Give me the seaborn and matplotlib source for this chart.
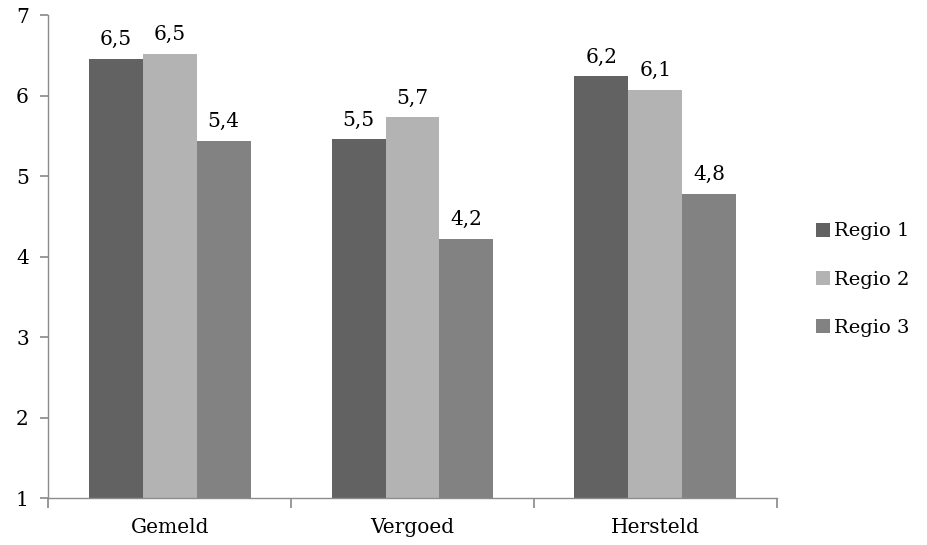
import matplotlib
matplotlib.use("Agg")
import matplotlib.pyplot as plt
import seaborn as sns
import pandas as pd

categories = ["Gemeld", "Vergoed", "Hersteld"]
series = ["Regio 1", "Regio 2", "Regio 3"]
regio1 = [6.46, 5.46, 6.24]
regio2 = [6.52, 5.73, 6.07]
regio3 = [5.44, 4.22, 4.78]
colors = ["#626262", "#b3b3b3", "#828282"]

rows = []
for s, vals in zip(series, [regio1, regio2, regio3]):
    for c, v in zip(categories, vals):
        rows.append({"cat": c, "regio": s, "val": v})
df = pd.DataFrame(rows)

sns.set_theme(style="white")
plt.rcParams["font.family"] = ["DejaVu Serif"]
plt.rcParams["text.color"] = "black"
fs = 14.5

fig = plt.figure(figsize=(9.28, 5.45), dpi=100)
ax = fig.add_axes([0.052, 0.086, 0.785, 0.886])

sns.barplot(data=df, x="cat", y="val", hue="regio", order=categories,
            hue_order=series, palette=colors, saturation=1, width=0.667,
            errorbar=None, ax=ax, edgecolor="none", linewidth=0)

ax.set_ylim(1, 7)
ax.set_xlim(-0.5, 2.5)
ax.set_yticks(range(1, 8))
ax.set_yticklabels([str(i) for i in range(1, 8)], fontsize=fs, color="black")
ax.set_xticks([-0.5, 0.5, 1.5, 2.5])
ax.set_xticklabels([])
ax.set_xticks([0, 1, 2], minor=True)
ax.set_xticklabels(categories, minor=True, fontsize=fs, color="black")
ax.tick_params(axis="x", which="major", length=7, color="#8c8c8c", direction="out", bottom=True)
ax.tick_params(axis="x", which="minor", length=0, pad=14)
ax.tick_params(axis="y", length=6, color="#8c8c8c", direction="out", left=True, pad=8)
ax.set_xlabel("")
ax.set_ylabel("")
for sp in ["top", "right"]:
    ax.spines[sp].set_visible(False)
for sp in ["left", "bottom"]:
    ax.spines[sp].set_color("#8c8c8c")
    ax.spines[sp].set_linewidth(1)

for cont, vals in zip(ax.containers, [regio1, regio2, regio3]):
    ax.bar_label(cont, labels=[f"{v:.1f}".replace(".", ",") for v in vals],
                 padding=7, fontsize=fs, color="black")

handles, labels = ax.get_legend_handles_labels()
ax.legend(handles, labels, loc="center left", bbox_to_anchor=(0.879, 0.487),
          bbox_transform=fig.transFigure, frameon=False, fontsize=14,
          handlelength=0.75, handleheight=0.75, handletextpad=0.2,
          labelspacing=1.55, borderaxespad=0, borderpad=0)

fig.savefig("out.png", dpi=100)
